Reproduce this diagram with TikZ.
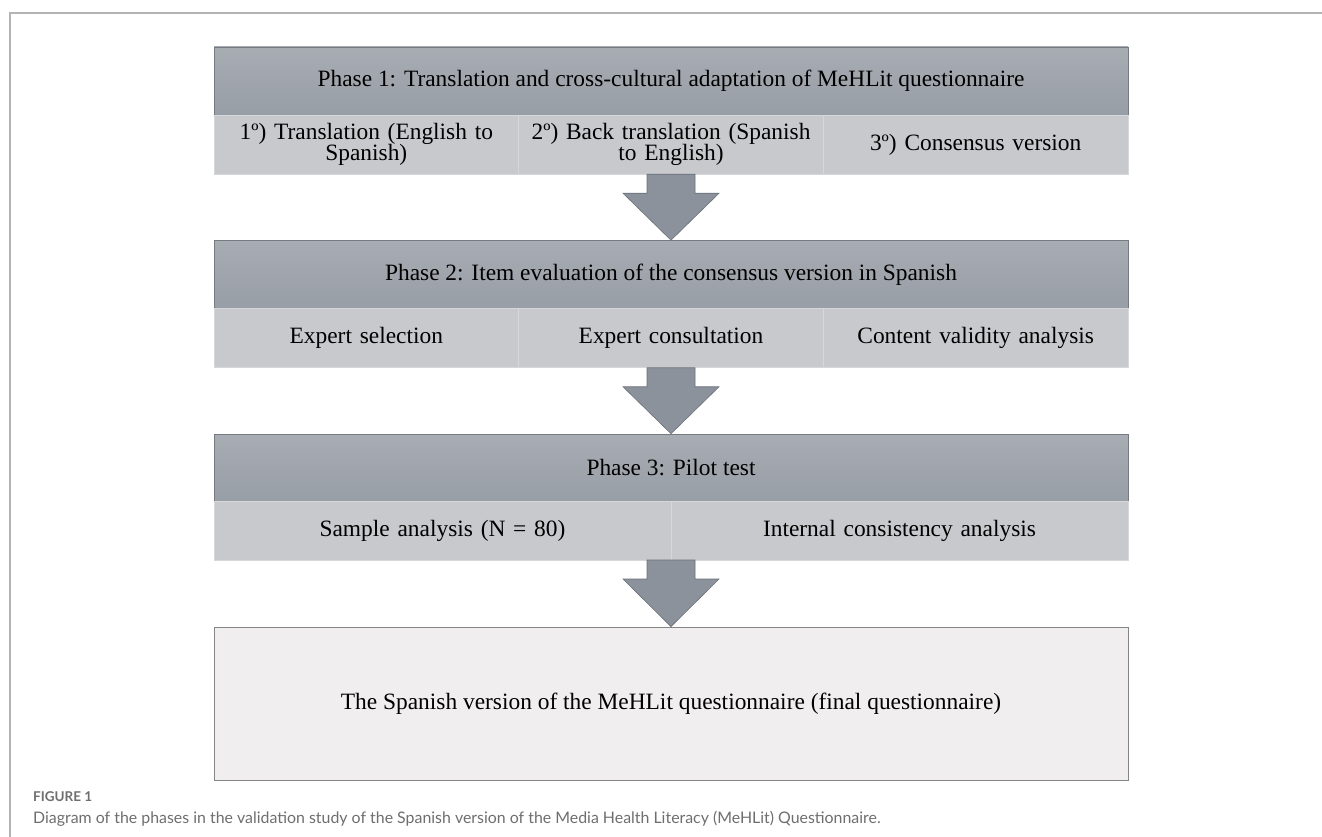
\documentclass[tikz,border=0pt]{standalone}
\usepackage{fontspec}
\setmainfont{Liberation Serif}
\newfontfamily\capfont{Lato}
\usetikzlibrary{calc}
\definecolor{hdrtop}{HTML}{A8ACB3}
\definecolor{hdrbot}{HTML}{989EA6}
\definecolor{hdrline}{HTML}{767B82}
\definecolor{subfill}{HTML}{C8C9CC}
\definecolor{subline}{HTML}{D6D7DA}
\definecolor{arrfill}{HTML}{8B929B}
\definecolor{arrline}{HTML}{6A7078}
\definecolor{finfill}{HTML}{F0EEEF}
\definecolor{finline}{HTML}{858585}
\definecolor{framecol}{HTML}{B4B4B4}
\definecolor{capgray}{HTML}{6E6E6E}
\tikzset{
  hdr/.style={rectangle, minimum width=914pt, minimum height=68pt, inner sep=0pt,
    top color=hdrtop, bottom color=hdrbot, draw=hdrline, line width=0.6pt,
    font=\fontsize{23.4}{26}\selectfont},
  cell/.style={rectangle, minimum height=59pt, inner sep=0pt,
    fill=subfill, draw=subline, line width=0.5pt, align=center,
    font=\fontsize{23.4}{21.5}\selectfont},
  cellthree/.style={cell, minimum width=304.67pt, text width=296pt},
  celltwo/.style={cell, minimum width=457pt, text width=440pt},
  blockarrow/.style={fill=arrfill, draw=arrline, line width=0.6pt, line join=miter},
  finalbox/.style={rectangle, minimum width=914pt, minimum height=153pt, inner sep=0pt,
    fill=finfill, draw=finline, line width=0.8pt, font=\fontsize{23.4}{26}\selectfont},
  captitle/.style={anchor=west, inner sep=0pt, text=capgray, font=\capfont\bfseries\fontsize{13.5}{15}\selectfont},
  captext/.style={anchor=west, inner sep=0pt, text=capgray, font=\capfont\fontsize{15.9}{19}\selectfont}
}
\newcommand{\blockarr}[2]{%
  \path let \p1=(#1.south), \p2=(#2.north) in
    [blockarrow] (\x1-24pt,\y1) -- (\x1+24pt,\y1) -- (\x1+24pt,\y1-19pt) -- (\x1+48pt,\y1-19pt)
    -- (\x1,\y2) -- (\x1-48pt,\y1-19pt) -- (\x1-24pt,\y1-19pt) -- cycle;}
\begin{document}
\begin{tikzpicture}[x=1pt,y=-1pt]
\useasboundingbox (0,0) rectangle (1322,837);
\draw[framecol, line width=1.2pt] (10,837) -- (10,13) -- (1322,13);

% Phase 1
\node[hdr] (p1) at (671,81) {Phase 1: Translation and cross-cultural adaptation of MeHLit questionnaire};
\node[cellthree] (p1a) at (366.33,144.5) {1º) Translation (English to\\Spanish)};
\node[cellthree] (p1b) at (671,144.5) {2º) Back translation (Spanish\\to English)};
\node[cellthree] (p1c) at (975.67,144.5) {3º) Consensus version};

% Phase 2
\node[hdr] (p2) at (671,274.5) {Phase 2: Item evaluation of the consensus version in Spanish};
\node[cellthree] (p2a) at (366.33,338) {Expert selection};
\node[cellthree] (p2b) at (671,338) {Expert consultation};
\node[cellthree] (p2c) at (975.67,338) {Content validity analysis};

% Phase 3
\node[hdr] (p3) at (671,468) {Phase 3: Pilot test};
\node[celltwo] (p3a) at (442.5,531) {Sample analysis (N = 80)};
\node[celltwo] (p3b) at (899.5,531) {Internal consistency analysis};

% Final
\node[finalbox] (fin) at (671,703.5) {The Spanish version of the MeHLit questionnaire (final questionnaire)};

% Arrows
\blockarr{p1b}{p2}
\blockarr{p2b}{p3}
\path let \p1=(p3.south), \p2=(fin.north) in
  [blockarrow] (\x1-24pt,-560pt) -- (\x1+24pt,-560pt) -- (\x1+24pt,-579pt) -- (\x1+48pt,-579pt)
  -- (\x1,\y2) -- (\x1-48pt,-579pt) -- (\x1-24pt,-579pt) -- cycle;

% Caption
\node[captitle] (cap1) at (33,797) {FIGURE 1};
\node[captext] (cap2) at (33,819) {Diagram of the phases in the validation study of the Spanish version of the Media Health Literacy (MeHLit) Questionnaire.};
\end{tikzpicture}
\end{document}
